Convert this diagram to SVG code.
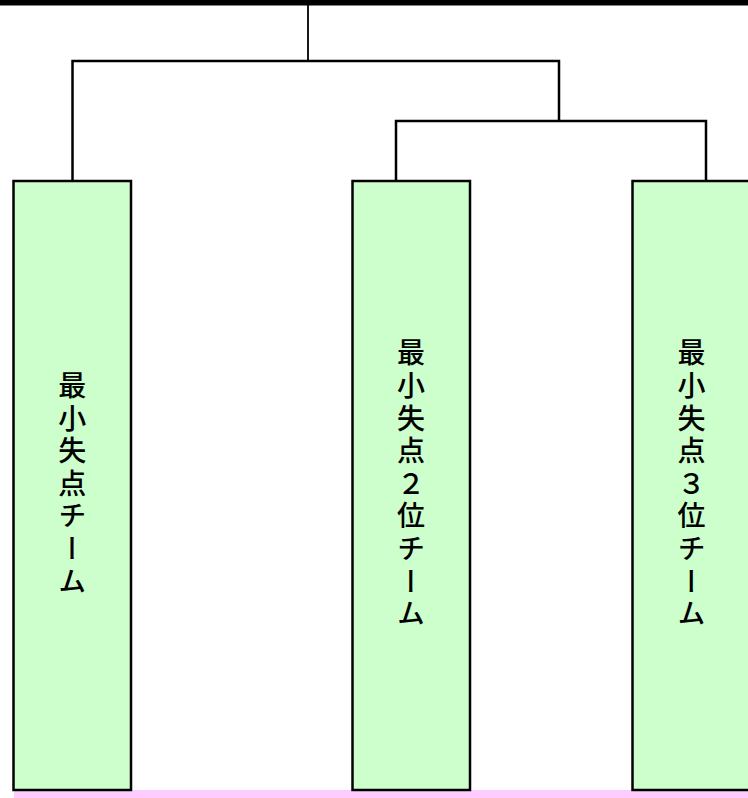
<svg xmlns="http://www.w3.org/2000/svg" width="748" height="798" viewBox="0 0 748 798">
<style>
.conn{stroke:#000;stroke-width:2.5;fill:none}
.box{fill:#CCFFCC;stroke:#000;stroke-width:2.5}
.lbl{font-family:"Noto Sans CJK JP","Noto Sans CJK SC",sans-serif;font-size:28px;font-weight:500;fill:#000;writing-mode:vertical-rl;text-anchor:middle;letter-spacing:4.6px}
</style>
<rect x="0" y="0" width="748" height="798" fill="#fff"/>
<rect x="14" y="790" width="734" height="8" fill="#FFCCFF"/>
<rect x="0" y="0" width="748" height="5.5" fill="#000"/>
<g id="connectors">
<line x1="308" y1="5" x2="308" y2="61" stroke="#000" stroke-width="1.8"/>
<polyline class="conn" points="72.5,181 72.5,61 559,61 559,121"/>
<polyline class="conn" points="396,181 396,121 706,121 706,181"/>
</g>
<g id="node1">
<rect class="box" x="13.5" y="181" width="117.5" height="609"/>
<text class="lbl" x="72.3" y="485.5">最小失点チーム</text>
</g>
<g id="node2">
<rect class="box" x="352.5" y="181" width="117.5" height="609"/>
<text class="lbl" x="411" y="485.5">最小失点２位チーム</text>
</g>
<g id="node3">
<rect class="box" x="632.5" y="181" width="117.5" height="609"/>
<text class="lbl" x="691.5" y="485.5">最小失点３位チーム</text>
</g>
</svg>
